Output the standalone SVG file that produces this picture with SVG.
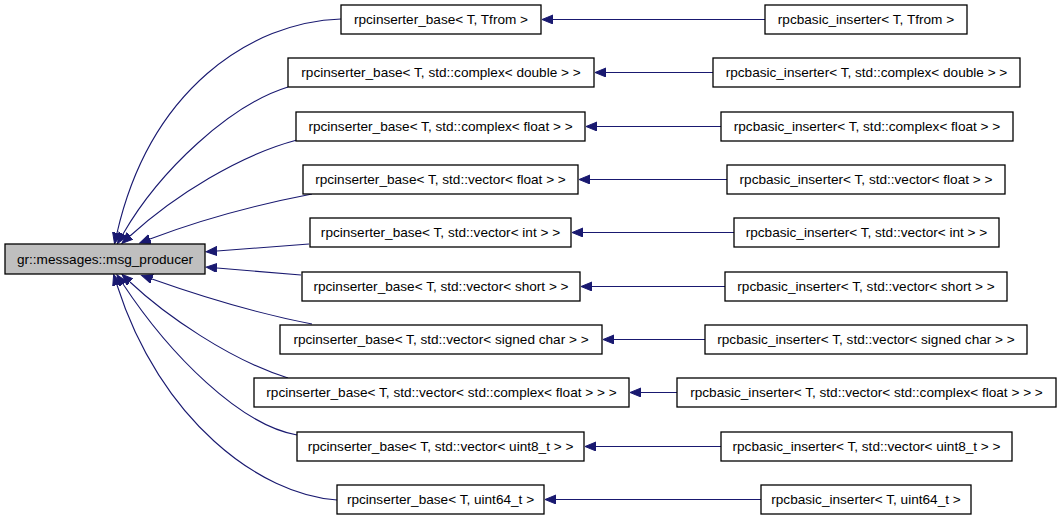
<svg xmlns="http://www.w3.org/2000/svg" width="1061" height="520" viewBox="0 0 1061 520">
<style>
.n rect{fill:#ffffff;stroke:#000000;stroke-width:1.3}
.n.main rect{fill:#bfbfbf}
.n text{font-family:"Liberation Sans",Arial,sans-serif;font-size:13.6px;fill:#000000;text-anchor:middle;dominant-baseline:central}
.e path{fill:none;stroke:#191970;stroke-width:1.1;marker-end:url(#ah)}
</style>
<defs>
<marker id="ah" markerUnits="userSpaceOnUse" markerWidth="12" markerHeight="10" refX="0" refY="4.5" orient="auto">
<path d="M0,0 L11,4.5 L0,9 z" fill="#191970" stroke="#191970" stroke-width="1"/>
</marker>
</defs>
<rect width="1061" height="520" fill="#ffffff"/>
<g id="edges" class="e">
<path d="M341,19 C250,22 150,90 117,233"/>
<path d="M288,87 C230,105 160,170 123,234"/>
<path d="M297,140 C240,155 175,195 130,236"/>
<path d="M312,194 C260,204 200,220 150,239"/>
<path d="M309,244 L217,251"/>
<path d="M301,275 L217,268"/>
<path d="M312,324 C260,314 200,296 152,279"/>
<path d="M288,378 C230,360 165,315 130,282"/>
<path d="M297,435 C240,425 170,355 123,284"/>
<path d="M337,500 C260,495 160,420 117,285"/>
<path d="M765,19.5 L553,19.5"/>
<path d="M713,72.5 L606,72.5"/>
<path d="M721,126.5 L597,126.5"/>
<path d="M727,179.5 L590,179.5"/>
<path d="M734,232.5 L583,232.5"/>
<path d="M725,286.5 L592,286.5"/>
<path d="M705,339.5 L614,339.5"/>
<path d="M677,392.5 L641,392.5"/>
<path d="M721,446.5 L596,446.5"/>
<path d="M761,499.5 L556,499.5"/>
</g>
<g id="msg_producer" class="n main"><rect x="5" y="244" width="200" height="30"/><text x="105" y="259">gr::messages::msg_producer</text></g>
<g id="base_tfrom" class="n"><rect x="341" y="5" width="200" height="29"/><text x="441" y="19.5">rpcinserter_base&lt; T, Tfrom &gt;</text></g>
<g id="base_cdouble" class="n"><rect x="288" y="58" width="306" height="29"/><text x="441" y="72.5">rpcinserter_base&lt; T, std::complex&lt; double &gt; &gt;</text></g>
<g id="base_cfloat" class="n"><rect x="296" y="112" width="289" height="29"/><text x="440.5" y="126.5">rpcinserter_base&lt; T, std::complex&lt; float &gt; &gt;</text></g>
<g id="base_vfloat" class="n"><rect x="303" y="165" width="275" height="29"/><text x="440.5" y="179.5">rpcinserter_base&lt; T, std::vector&lt; float &gt; &gt;</text></g>
<g id="base_vint" class="n"><rect x="310" y="218" width="261" height="29"/><text x="440.5" y="232.5">rpcinserter_base&lt; T, std::vector&lt; int &gt; &gt;</text></g>
<g id="base_vshort" class="n"><rect x="302" y="272" width="278" height="29"/><text x="441" y="286.5">rpcinserter_base&lt; T, std::vector&lt; short &gt; &gt;</text></g>
<g id="base_vschar" class="n"><rect x="280" y="325" width="322" height="29"/><text x="441" y="339.5">rpcinserter_base&lt; T, std::vector&lt; signed char &gt; &gt;</text></g>
<g id="base_vcfloat" class="n"><rect x="254" y="378" width="375" height="29"/><text x="441.5" y="392.5">rpcinserter_base&lt; T, std::vector&lt; std::complex&lt; float &gt; &gt; &gt;</text></g>
<g id="base_vuint8" class="n"><rect x="297" y="432" width="287" height="29"/><text x="440.5" y="446.5">rpcinserter_base&lt; T, std::vector&lt; uint8_t &gt; &gt;</text></g>
<g id="base_uint64" class="n"><rect x="337" y="485" width="207" height="29"/><text x="440.5" y="499.5">rpcinserter_base&lt; T, uint64_t &gt;</text></g>
<g id="basic_tfrom" class="n"><rect x="765" y="5" width="202" height="29"/><text x="866" y="19.5">rpcbasic_inserter&lt; T, Tfrom &gt;</text></g>
<g id="basic_cdouble" class="n"><rect x="713" y="58" width="307" height="29"/><text x="866.5" y="72.5">rpcbasic_inserter&lt; T, std::complex&lt; double &gt; &gt;</text></g>
<g id="basic_cfloat" class="n"><rect x="721" y="112" width="292" height="29"/><text x="867" y="126.5">rpcbasic_inserter&lt; T, std::complex&lt; float &gt; &gt;</text></g>
<g id="basic_vfloat" class="n"><rect x="727" y="165" width="278" height="29"/><text x="866" y="179.5">rpcbasic_inserter&lt; T, std::vector&lt; float &gt; &gt;</text></g>
<g id="basic_vint" class="n"><rect x="734" y="218" width="265" height="29"/><text x="866.5" y="232.5">rpcbasic_inserter&lt; T, std::vector&lt; int &gt; &gt;</text></g>
<g id="basic_vshort" class="n"><rect x="725" y="272" width="282" height="29"/><text x="866" y="286.5">rpcbasic_inserter&lt; T, std::vector&lt; short &gt; &gt;</text></g>
<g id="basic_vschar" class="n"><rect x="705" y="325" width="322" height="29"/><text x="866" y="339.5">rpcbasic_inserter&lt; T, std::vector&lt; signed char &gt; &gt;</text></g>
<g id="basic_vcfloat" class="n"><rect x="677" y="378" width="379" height="29"/><text x="866.5" y="392.5">rpcbasic_inserter&lt; T, std::vector&lt; std::complex&lt; float &gt; &gt; &gt;</text></g>
<g id="basic_vuint8" class="n"><rect x="721" y="432" width="291" height="29"/><text x="866.5" y="446.5">rpcbasic_inserter&lt; T, std::vector&lt; uint8_t &gt; &gt;</text></g>
<g id="basic_uint64" class="n"><rect x="761" y="485" width="210" height="29"/><text x="866" y="499.5">rpcbasic_inserter&lt; T, uint64_t &gt;</text></g>
</svg>
